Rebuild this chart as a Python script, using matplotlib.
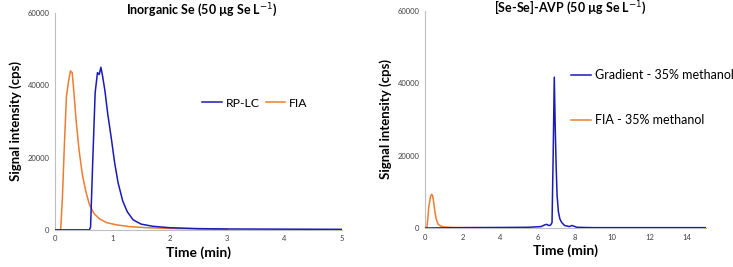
import matplotlib.pyplot as plt

# Inorganic Se - RP-LC
t_rplc = [0, 0.5, 0.60, 0.62, 0.66, 0.70, 0.74, 0.77, 0.80, 0.83, 0.87, 0.92, 0.98, 1.04, 1.10, 1.18,
          1.26, 1.36, 1.5, 1.7, 2.0, 2.5, 3.0, 4.0, 5.0]
i_rplc = [0, 0, 0, 800, 20000, 38000, 43500, 43000, 45000, 42500, 38500, 32000, 25500, 18500, 13000,
          8000, 5000, 2800, 1600, 1000, 600, 350, 250, 200, 150]

# Inorganic Se - FIA
t_fia1 = [0, 0.08, 0.10, 0.13, 0.16, 0.20, 0.24, 0.27, 0.30, 0.33, 0.37, 0.42, 0.48, 0.54, 0.60, 0.68,
          0.78, 0.9, 1.07, 1.3, 1.6, 2.0, 2.5, 3.0]
i_fia1 = [0, 0, 300, 9000, 22000, 37000, 41500, 44000, 43500, 38000, 30000, 22000, 15000, 10500, 7000, 4500,
          3000, 2000, 1400, 900, 600, 400, 250, 150]

# [Se-Se]-AVP - gradient
t_grad = [0, 2, 4, 5.5, 6.2, 6.4, 6.5, 6.6, 6.7, 6.78, 6.84, 6.9, 6.95, 7.0, 7.05, 7.12, 7.2, 7.3, 7.45,
          7.7, 7.85, 7.95, 8.1, 9, 11, 13, 15]
i_grad = [0, 100, 150, 200, 400, 900, 1000, 700, 800, 1500, 20000, 41700, 28000, 17000, 9000, 4500, 2500, 1500, 700,
          400, 700, 500, 200, 100, 100, 100, 100]

# [Se-Se]-AVP - FIA
t_fia2 = [0, 0.09, 0.14, 0.20, 0.28, 0.34, 0.40, 0.46, 0.52, 0.6, 0.7, 0.85, 1.0, 1.5, 2.0, 3.0]
i_fia2 = [0, 0, 2500, 6000, 8500, 9300, 9000, 7000, 4500, 2300, 1000, 500, 300, 150, 100, 100]

blue = '#1a1ab8'
orange = '#ED7D31'
grey = '#BFBFBF'

plt.rcParams['font.family'] = ['Lato', 'DejaVu Sans']

fig = plt.figure(figsize=(7.33, 2.67), dpi=100)
ax1 = fig.add_axes([0.075, 0.139, 0.3916, 0.812])
ax2 = fig.add_axes([0.58, 0.146, 0.383, 0.813])


def style(ax, xmax, xticks):
    ax.set_xlim(0, xmax)
    ax.set_ylim(0, 60000)
    ax.set_xticks(xticks)
    ax.set_yticks([0, 20000, 40000, 60000])
    for s in ['top', 'right']:
        ax.spines[s].set_visible(False)
    for s in ['left', 'bottom']:
        ax.spines[s].set_color(grey)
        ax.spines[s].set_linewidth(0.8)
    ax.tick_params(length=0, labelsize=5.5, colors='#404040', pad=4)
    ax.set_xlabel('Time (min)', fontsize=10, fontweight='bold', labelpad=3)
    ax.set_ylabel('Signal intensity (cps)', fontsize=9.5, fontweight='bold', labelpad=4)


ax1.plot(t_rplc, i_rplc, color=blue, lw=1.1, label='RP-LC', zorder=3)
ax1.plot(t_fia1, i_fia1, color=orange, lw=1.1, label='FIA', zorder=2)
style(ax1, 5, range(0, 6))
fig.text(0.276, 0.948, 'Inorganic Se (50 µg Se L$^{-1}$)', fontsize=9, fontweight='bold',
         ha='center', va='baseline')
ax1.legend(loc='center left', bbox_to_anchor=(0.496, 0.585), ncol=2, frameon=False, fontsize=8.8,
           handlelength=1.6, handletextpad=0.3, columnspacing=0.5, borderaxespad=0)

ax2.plot(t_grad, i_grad, color=blue, lw=1.1, label='Gradient - 35% methanol', zorder=3)
ax2.plot(t_fia2, i_fia2, color=orange, lw=1.1, label='FIA - 35% methanol', zorder=2)
style(ax2, 15, range(0, 16, 2))
fig.text(0.778, 0.955, '[Se-Se]-AVP (50 µg Se L$^{-1}$)', fontsize=9, fontweight='bold',
         ha='center', va='baseline')
ax2.legend(loc='upper left', bbox_to_anchor=(0.52, 0.733), frameon=False, fontsize=9,
           handlelength=1.6, handletextpad=0.3, labelspacing=2.64, borderaxespad=0, borderpad=0)

fig.savefig('out.png', dpi=100)
